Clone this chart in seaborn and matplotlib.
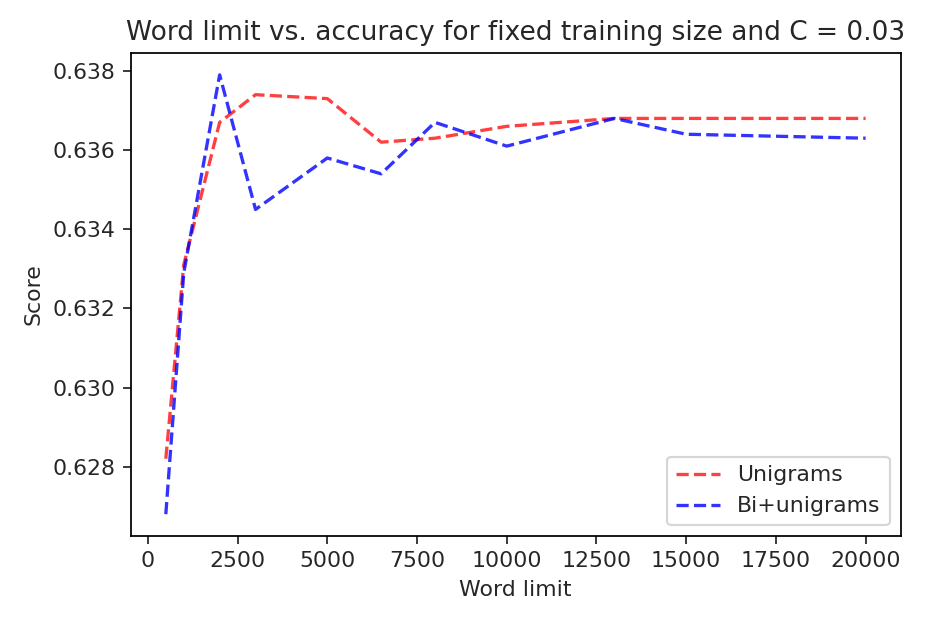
import numpy as np
import pandas as pd
import matplotlib
matplotlib.use('Agg')
import matplotlib.pyplot as plt
import seaborn as sns

# values
word_limit = [500, 1000, 2000, 3000, 5000, 6500, 8000, 10000, 13000, 15000, 20000]
unigram_score = [0.6282, 0.6331, 0.6367, 0.6374, 0.6373, 0.6362, 0.6363, 0.6366, 0.6368, 0.6368, 0.6368]
biunigram_score = [0.6268, 0.6329, 0.6379, 0.6345, 0.6358, 0.6354, 0.6367, 0.6361, 0.6368, 0.6364, 0.6363]

scores = pd.DataFrame({'Word limit': word_limit,
                       'Unigrams': unigram_score,
                       'Bi+unigrams': biunigram_score})

sns.set_style('ticks')
plt.rcParams['font.family'] = ['DejaVu Sans']
plt.rcParams['axes.edgecolor'] = 'black'

fig, ax = plt.subplots(figsize=(6, 630 / 158), dpi=158)
fig.subplots_adjust(left=0.138, right=0.950, top=0.916, bottom=0.149)

sns.lineplot(data=scores, x='Word limit', y='Unigrams', ax=ax,
             color='red', alpha=0.75, linestyle='--', linewidth=1.5, label='Unigrams')
sns.lineplot(data=scores, x='Word limit', y='Bi+unigrams', ax=ax,
             color='blue', alpha=0.8, linestyle='--', linewidth=1.5, label='Bi+unigrams')

ax.set_xticks(np.arange(0, 20001, 2500))
ax.set_yticks([0.628, 0.630, 0.632, 0.634, 0.636, 0.638])
ax.set_xlabel('Word limit')
ax.set_ylabel('Score')
ax.set_title('Word limit vs. accuracy for fixed training size and C = 0.03')
ax.legend(loc='lower right')

fig.savefig('out.png', dpi=158)
